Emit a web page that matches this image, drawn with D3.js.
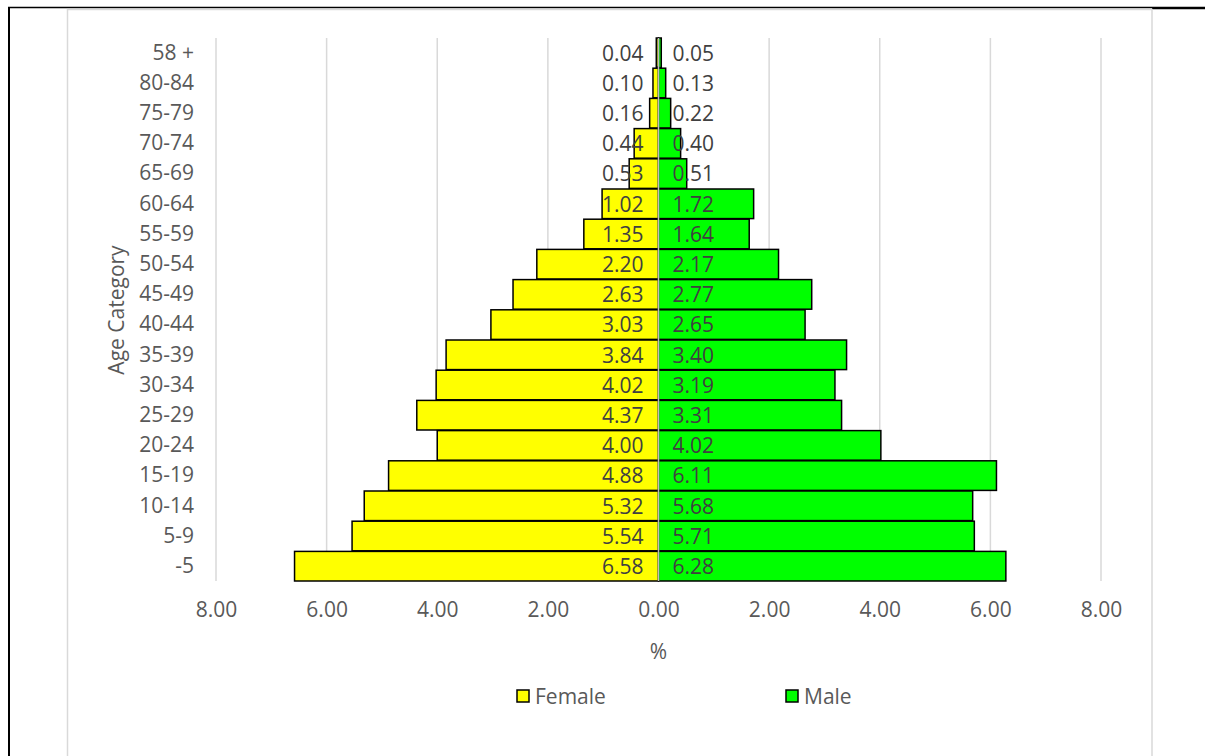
<!DOCTYPE html>
<html><head><meta charset="utf-8">
<script src="https://cdn.jsdelivr.net/npm/d3@7"></script>
<style>
body{margin:0;background:#fff;}
text{font-family:"Open Sans",sans-serif;fill:#595959;}
</style></head>
<body><svg id="c" width="1205" height="756"></svg>
<script>
const categories = ["58 +","80-84","75-79","70-74","65-69","60-64","55-59","50-54","45-49","40-44","35-39","30-34","25-29","20-24","15-19","10-14","5-9","-5"];
const female = [0.04,0.10,0.16,0.44,0.53,1.02,1.35,2.20,2.63,3.03,3.84,4.02,4.37,4.00,4.88,5.32,5.54,6.58];
const male = [0.05,0.13,0.22,0.40,0.51,1.72,1.64,2.17,2.77,2.65,3.40,3.19,3.31,4.02,6.11,5.68,5.71,6.28];
const tickValues = [-8,-6,-4,-2,0,2,4,6,8];
const seriesNames = ["Female","Male"];
const colors = {Female:"#FFFF00", Male:"#00FF00"};

const svg = d3.select("#c");
// outer frames
svg.append("line").attr("x1",8).attr("x2",1152).attr("y1",7.5).attr("y2",7.5).attr("stroke","#000").attr("stroke-width",1.5);
svg.append("line").attr("x1",1152).attr("x2",1205).attr("y1",8).attr("y2",8).attr("stroke","#000").attr("stroke-width",2.5);
svg.append("line").attr("x1",9).attr("x2",9).attr("y1",7).attr("y2",756).attr("stroke","#000").attr("stroke-width",2);
svg.append("path").attr("d","M67.5,760 V9.5 H1152 V760").attr("fill","none").attr("stroke","#d9d9d9").attr("stroke-width",1.5);

const x = d3.scaleLinear().domain([-8,8]).range([216,1101]);
const y = d3.scaleBand().domain(categories).range([38,581]).paddingInner(0.02);

// gridlines
svg.append("g").selectAll("line").data(tickValues.filter(d=>d!==0)).join("line")
  .attr("x1",d=>x(d)).attr("x2",d=>x(d)).attr("y1",38).attr("y2",581)
  .attr("stroke","#d9d9d9").attr("stroke-width",1.5);

// bars
const g = svg.append("g");
g.selectAll("rect.f").data(categories).join("rect").attr("class","f")
  .attr("x",(d,i)=>x(-female[i])).attr("width",(d,i)=>x(0)-x(-female[i]))
  .attr("y",d=>y(d)).attr("height",y.bandwidth())
  .attr("fill",colors.Female).attr("stroke","#000").attr("stroke-width",1.5);
g.selectAll("rect.m").data(categories).join("rect").attr("class","m")
  .attr("x",x(0)).attr("width",(d,i)=>x(male[i])-x(0))
  .attr("y",d=>y(d)).attr("height",y.bandwidth())
  .attr("fill",colors.Male).attr("stroke","#000").attr("stroke-width",1.5);

// center axis line
svg.append("line").attr("x1",x(0)).attr("x2",x(0)).attr("y1",38).attr("y2",581).attr("stroke","#bfbfbf").attr("stroke-width",1.5);

// value labels
const fs = 21;
svg.append("g").selectAll("text").data(categories).join("text")
  .attr("x",x(0)-15).attr("y",d=>y(d)+y.step()/2).attr("dy","0.36em")
  .attr("text-anchor","end").attr("font-size",fs).style("fill","#404040")
  .text((d,i)=>female[i].toFixed(2));
svg.append("g").selectAll("text").data(categories).join("text")
  .attr("x",x(0)+14).attr("y",d=>y(d)+y.step()/2).attr("dy","0.36em")
  .attr("text-anchor","start").attr("font-size",fs).style("fill","#404040")
  .text((d,i)=>male[i].toFixed(2));

// y axis labels
const yAxis = d3.axisLeft(y).tickSize(0).tickPadding(0);
const ya = svg.append("g").attr("transform","translate(194,0)").call(yAxis);
ya.select(".domain").remove();
ya.selectAll("text").attr("font-size",fs).attr("font-family","Open Sans").attr("fill","#595959");

// x axis labels
const xAxis = d3.axisBottom(x).tickValues(tickValues).tickSize(0).tickPadding(0).tickFormat(d=>Math.abs(d).toFixed(2));
const xa = svg.append("g").attr("transform","translate(0,602)").call(xAxis);
xa.select(".domain").remove();
xa.selectAll("text").attr("font-size",fs).attr("font-family","Open Sans").attr("fill","#595959");

// axis titles
svg.append("text").attr("x",x(0)).attr("y",652).attr("dy","0.35em").attr("text-anchor","middle").attr("font-size",fs).text("%");
svg.append("text").attr("transform","translate(117,310) rotate(-90)").attr("dy","0.35em").attr("text-anchor","middle").attr("font-size",fs).text("Age Category");

// legend
const legendX = [517, 786];
const lg = svg.append("g").selectAll("g").data(seriesNames).join("g")
  .attr("transform",(d,i)=>`translate(${legendX[i]},690)`);
lg.append("rect").attr("width",12).attr("height",12).attr("fill",d=>colors[d]).attr("stroke","#000").attr("stroke-width",1.5);
lg.append("text").attr("x",18).attr("y",6).attr("dy","0.36em").attr("font-size",fs).text(d=>d);
</script></body></html>
